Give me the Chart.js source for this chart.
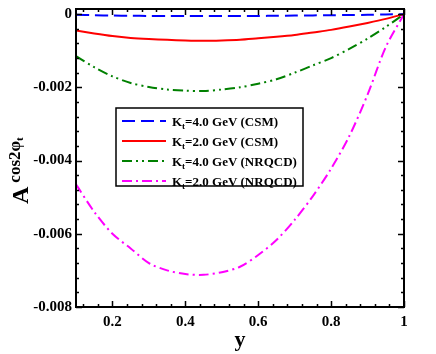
<!doctype html>
<html lang="en">
<head>
  <meta charset="UTF-8">
  <title>A cos2phi vs y</title>
  <script src="https://cdn.jsdelivr.net/npm/chart.js@4.4.0/dist/chart.umd.min.js"></script>
  <style>
      body { margin: 0; background: #fff; }
      canvas { display: block; }
  </style>
</head>
<body>
<canvas id="myChart" width="436" height="354"></canvas>

<script>
  // values of y (horizontal axis)
  const xValues = [0.1, 0.15, 0.2, 0.25, 0.3, 0.35, 0.4, 0.45, 0.5, 0.55,
                   0.6, 0.65, 0.7, 0.75, 0.8, 0.85, 0.9, 0.95, 1.0]

  const csm4 = [-0.00002, -0.00003, -0.00004, -0.000045, -0.00005, -0.00005, -0.00005, -0.00005, -0.00005, -0.00005,
                -0.00005, -0.000045, -0.00004, -0.000035, -0.00003, -0.000025, -0.000018, -0.00001, 0]
  const csm2 = [-0.00045, -0.00053, -0.0006, -0.00065, -0.00068, -0.0007, -0.00072, -0.00073, -0.00072, -0.0007,
                -0.00066, -0.00062, -0.00057, -0.0005, -0.00043, -0.00034, -0.00024, -0.00013, 0]
  const nrqcd4 = [-0.00115, -0.00145, -0.0017, -0.00188, -0.00199, -0.00206, -0.00209, -0.0021, -0.00206, -0.002,
                  -0.0019, -0.00178, -0.0016, -0.0014, -0.0012, -0.00095, -0.00067, -0.00035, 0]
  const nrqcd2 = [-0.00465, -0.0054, -0.006, -0.0064, -0.0068, -0.007, -0.0071, -0.00712, -0.00705, -0.0069,
                  -0.00658, -0.00617, -0.00562, -0.00497, -0.00422, -0.00333, -0.0022, -0.0009, 0]

  const seriesLabels = ['=4.0 GeV (CSM)', '=2.0 GeV (CSM)', '=4.0 GeV (NRQCD)', '=2.0 GeV (NRQCD)']

  const xTicks = [0.2, 0.4, 0.6, 0.8, 1]
  const yTicks = [0, -0.002, -0.004, -0.006, -0.008]

  const FONT = '"Liberation Serif", "Times New Roman", serif'

  function pts(vals) {
    return xValues.map((x, i) => ({ x: x, y: vals[i] }))
  }

  function mkSet(label, vals, color, dash) {
    return {
      label: label,
      data: pts(vals),
      borderColor: color,
      backgroundColor: color,
      borderWidth: 2,
      borderDash: dash,
      pointRadius: 0,
      showLine: true,
      tension: 0.3
    }
  }

  // frame, inward ticks, legend and y title
  const decor = {
    id: 'decor',
    afterDraw(chart) {
      const ctx = chart.ctx
      const ca = chart.chartArea
      const xs = chart.scales.x
      const ys = chart.scales.y
      ctx.save()
      ctx.strokeStyle = '#000'
      ctx.lineWidth = 1.5

      // x ticks, bottom and top
      for (let i = 0; i <= 25; i++) {
        const v = 0.04 * i
        if (v < xs.min - 1e-9 || v > xs.max + 1e-9) continue
        const px = Math.round(xs.getPixelForValue(v)) + 0.5
        const major = Math.abs(v / 0.2 - Math.round(v / 0.2)) < 1e-6
        const len = major ? 6 : 3
        ctx.beginPath()
        ctx.moveTo(px, ca.bottom); ctx.lineTo(px, ca.bottom - len)
        ctx.moveTo(px, ca.top); ctx.lineTo(px, ca.top + len)
        ctx.stroke()
      }
      // y ticks, left and right
      for (let i = 0; i <= 20; i++) {
        const v = -0.0004 * i
        const py = Math.round(ys.getPixelForValue(v)) + 0.5
        const major = i % 5 === 0
        const len = major ? 6 : 3
        ctx.beginPath()
        ctx.moveTo(ca.left, py); ctx.lineTo(ca.left + len, py)
        ctx.moveTo(ca.right, py); ctx.lineTo(ca.right - len, py)
        ctx.stroke()
      }

      // frame
      ctx.lineWidth = 2
      ctx.strokeRect(ca.left, ca.top, ca.right - ca.left, ca.bottom - ca.top)

      // legend
      const bx = ca.left + 40, by = ca.top + 99, bw = 187, bh = 78
      ctx.lineWidth = 1.5
      ctx.strokeRect(bx, by, bw, bh)
      chart.data.datasets.forEach((ds, i) => {
        const ry = by + 13 + i * 20
        ctx.save()
        ctx.strokeStyle = ds.borderColor
        ctx.lineWidth = 2
        ctx.setLineDash(ds.borderDash || [])
        ctx.beginPath()
        ctx.moveTo(bx + 6, ry); ctx.lineTo(bx + 50, ry)
        ctx.stroke()
        ctx.restore()
        ctx.fillStyle = '#000'
        ctx.textBaseline = 'alphabetic'
        ctx.textAlign = 'left'
        let tx = bx + 56
        const base = ry + 4.5
        ctx.font = 'bold 13px ' + FONT
        ctx.fillText('K', tx, base)
        tx += ctx.measureText('K').width
        ctx.font = 'bold 9px ' + FONT
        ctx.fillText('t', tx, base + 3)
        tx += ctx.measureText('t').width
        ctx.font = 'bold 13px ' + FONT
        ctx.fillText(ds.label, tx, base)
      })

      // y axis title
      ctx.translate(28, 204)
      ctx.rotate(-Math.PI / 2)
      ctx.fillStyle = '#000'
      ctx.textAlign = 'left'
      ctx.textBaseline = 'alphabetic'
      ctx.font = 'bold 24px ' + FONT
      ctx.fillText('A', 0, 0)
      let w = ctx.measureText('A').width + 4
      ctx.font = 'bold 17px ' + FONT
      ctx.fillText('cos2\u03c6', w, -8)
      w += ctx.measureText('cos2\u03c6').width
      ctx.font = 'bold 11px ' + FONT
      ctx.fillText('t', w, -5)

      ctx.restore()
    }
  }

  const chart = new Chart(document.querySelector('#myChart'), {
    type: 'scatter',
    data: {
      datasets: [
        mkSet(seriesLabels[0], csm4, '#0000ff', [13, 6]),
        mkSet(seriesLabels[1], csm2, '#ff0000', []),
        mkSet(seriesLabels[2], nrqcd4, '#008000', [10, 4, 2, 4, 2, 4]),
        mkSet(seriesLabels[3], nrqcd2, '#ff00ff', [10, 4, 2, 4])
      ]
    },
    options: {
      responsive: false,
      animation: false,
      layout: { padding: { left: 0, top: 9, right: 32, bottom: 0 } },
      plugins: {
        legend: { display: false },
        tooltip: { enabled: false }
      },
      scales: {
        x: {
          type: 'linear',
          min: 0.1,
          max: 1,
          afterBuildTicks: s => { s.ticks = xTicks.map(v => ({ value: v })) },
          afterFit: s => { s.height = 47; s.paddingLeft = 0; s.paddingRight = 0 },
          grid: { drawOnChartArea: false, drawTicks: false },
          border: { display: false },
          ticks: {
            padding: 6,
            color: '#000',
            font: { family: FONT, size: 15, weight: 'bold' },
            callback: v => String(Math.round(v * 10) / 10)
          },
          title: {
            display: true,
            text: 'y',
            color: '#000',
            padding: { top: 0, bottom: 0 },
            font: { family: FONT, size: 22, weight: 'bold' }
          }
        },
        y: {
          type: 'linear',
          min: -0.008,
          max: 0.00014,
          afterBuildTicks: s => { s.ticks = yTicks.map(v => ({ value: v })) },
          afterFit: s => { s.width = 76; s.paddingTop = 0; s.paddingBottom = 0 },
          grid: { drawOnChartArea: false, drawTicks: false },
          border: { display: false },
          ticks: {
            padding: 4,
            color: '#000',
            font: { family: FONT, size: 15, weight: 'bold' },
            callback: v => v === 0 ? '0' : v.toFixed(3)
          }
        }
      }
    },
    plugins: [decor]
  })
</script>

</body>
</html>
